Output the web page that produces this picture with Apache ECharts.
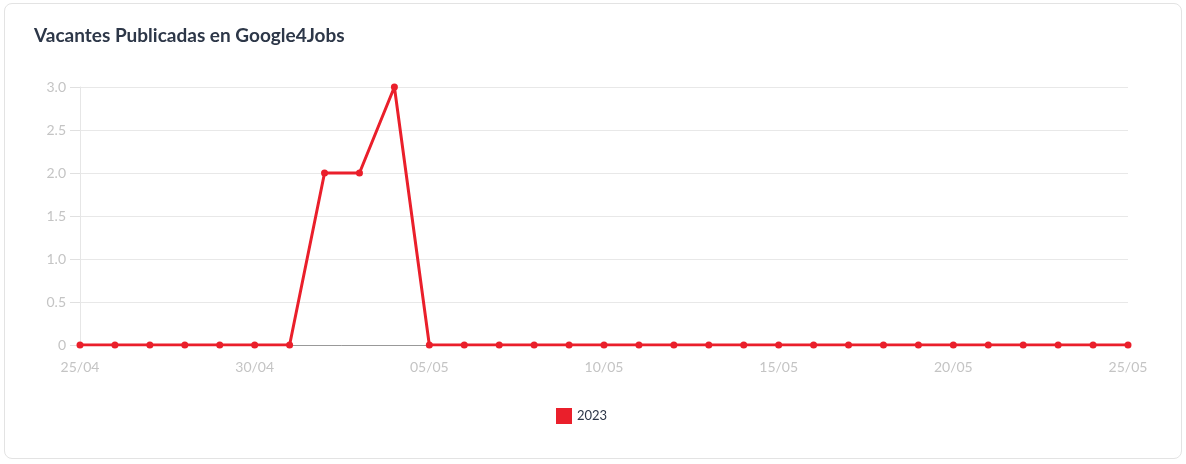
<!DOCTYPE html>
<html><head><meta charset="utf-8">
<script src="https://cdn.jsdelivr.net/npm/echarts@6/dist/echarts.min.js"></script>
<style>
html,body{margin:0;padding:0;background:#fff;}
#card{position:absolute;left:4px;top:3px;width:1178px;height:456px;border:1px solid #e3e3e3;border-radius:8px;box-sizing:border-box;}
#c{position:absolute;left:0;top:0;width:1186px;height:464px;}
</style></head>
<body><div id="card"></div><div id="c"></div>
<script>
const categories = ["25/04","26/04","27/04","28/04","29/04","30/04","01/05","02/05","03/05","04/05","05/05","06/05","07/05","08/05","09/05","10/05","11/05","12/05","13/05","14/05","15/05","16/05","17/05","18/05","19/05","20/05","21/05","22/05","23/05","24/05","25/05"];
const values2023 = [0,0,0,0,0,0,0,2,2,3,0,0,0,0,0,0,0,0,0,0,0,0,0,0,0,0,0,0,0,0,0];
const yTicks = {min:0,max:3,interval:0.5};
const seriesName = "2023";
const titleText = "Vacantes Publicadas en Google4Jobs";
const font = "'Source Sans Pro', Lato, 'Noto Sans', sans-serif";
const chart = echarts.init(document.getElementById('c'));
chart.setOption({
  animation:false,
  title:{text:titleText,left:29,top:21,textStyle:{fontFamily:font,fontSize:19,fontWeight:'bold',color:'#2d3748'}},
  grid:{left:80,right:58,top:87,bottom:119,containLabel:false},
  legend:{data:[{name:seriesName,icon:'rect'}],top:403,left:551,itemWidth:16,itemHeight:16,itemGap:10,
    textStyle:{fontFamily:font,fontSize:13,color:'#2d3748'}},
  xAxis:{type:'category',data:categories,boundaryGap:false,
    axisLine:{show:true,lineStyle:{color:'#999',width:1}},
    axisTick:{show:false},
    axisLabel:{interval:4,color:'#c4c4c4',fontFamily:font,fontSize:14,margin:15,showMaxLabel:true},
    splitLine:{show:false}},
  yAxis:{type:'value',min:yTicks.min,max:yTicks.max,interval:yTicks.interval,
    axisLine:{show:true,lineStyle:{color:'#e6e6e6'}},
    axisTick:{show:true,length:10,lineStyle:{color:'#e0e0e0'}},
    axisLabel:{color:'#c4c4c4',fontFamily:font,fontSize:14,margin:14,
      formatter:v=>v===0?'0':v.toFixed(1)},
    splitLine:{lineStyle:{color:'#e8e8e8'}}},
  series:[{name:seriesName,type:'line',data:values2023,symbol:'circle',symbolSize:7,
    lineStyle:{color:'#ea1f2b',width:3},itemStyle:{color:'#ea1f2b'}}]
});
</script></body></html>
